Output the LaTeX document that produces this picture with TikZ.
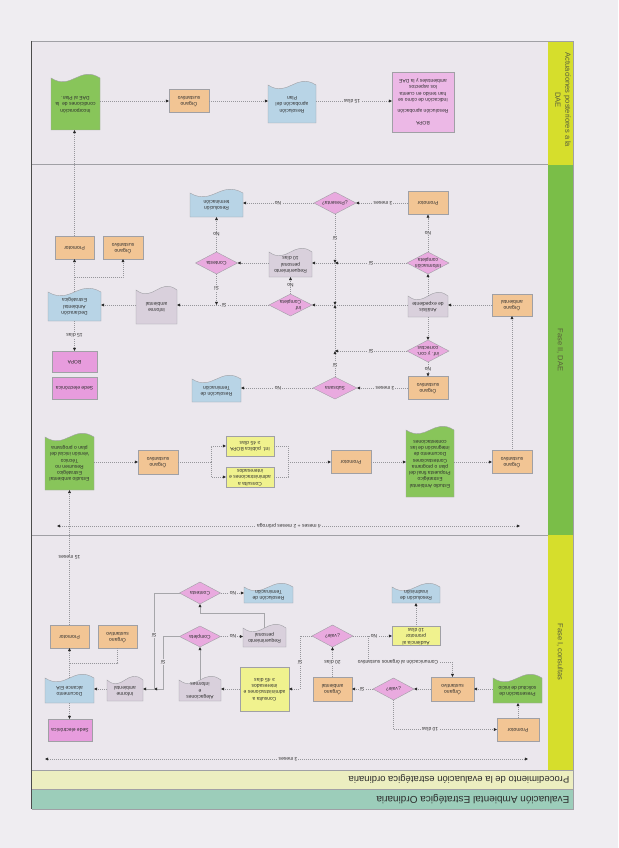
\documentclass[tikz,border=0pt]{standalone}
\usepackage{fontspec}
\setmainfont{Liberation Sans}
\usetikzlibrary{shapes.geometric,arrows.meta,calc}
\definecolor{pagebg}{RGB}{239,237,241}
\definecolor{bg}{RGB}{235,231,237}
\definecolor{orng}{RGB}{242,197,148}
\definecolor{grn}{RGB}{136,197,90}
\definecolor{blu}{RGB}{184,212,230}
\definecolor{pnk}{RGB}{231,156,221}
\definecolor{pnkl}{RGB}{236,184,230}
\definecolor{dpnk}{RGB}{233,170,223}
\definecolor{gry}{RGB}{217,208,220}
\definecolor{ylw}{RGB}{240,242,142}
\definecolor{bandy}{RGB}{214,222,44}
\definecolor{bandg}{RGB}{122,190,72}
\definecolor{lty}{RGB}{236,238,192}
\definecolor{tl}{RGB}{156,205,186}
\definecolor{edge}{RGB}{160,160,165}
\definecolor{lc}{RGB}{150,150,155}
\definecolor{tipc}{RGB}{40,40,40}
\definecolor{txt}{RGB}{45,45,45}
\definecolor{bandtxt}{RGB}{90,95,60}

\newcommand{\T}[2][c]{\makebox[0pt]{\smash{\raisebox{-0.25em}{\rotatebox[origin=c]{180}{\begin{tabular}{@{}#1@{}}#2\end{tabular}}}}}}

\tikzset{
 nbox/.style={draw=edge, line width=0.4pt, rectangle, inner sep=0pt, outer sep=0pt, text=txt, font=\fontsize{5}{6.3}\selectfont},
 dbox/.style={draw=edge, line width=0.4pt, diamond, fill=dpnk, inner sep=0pt, outer sep=0pt, text=txt, font=\fontsize{5}{6.3}\selectfont, minimum width=42pt, minimum height=22pt},
 dochold/.style={rectangle, inner sep=0pt, outer sep=0pt, text=txt, font=\fontsize{5}{6.3}\selectfont},
 conn/.style={draw=lc, line width=0.5pt, dash pattern=on 0.9pt off 1.1pt},
 sconn/.style={draw=lc!85!white, line width=0.7pt},
 arr/.style={-{Triangle[length=3.2pt,width=2.8pt,color=tipc]}},
 twoway/.style={{Triangle[length=3.2pt,width=2.8pt,color=tipc]}-{Triangle[length=3.2pt,width=2.8pt,color=tipc]}},
 lbl/.style={rotate=180, fill=bg, inner sep=0.7pt, text=txt, font=\fontsize{5}{6}\selectfont},
 bandlbl/.style={rotate=-90, text=bandtxt, font=\fontsize{7.5}{10}\selectfont, align=center, inner sep=0pt},
 sepline/.style={draw=edge, line width=0.5pt},
 frameline/.style={draw=gray!60!black, line width=0.9pt},
}

\newcommand{\mkbox}[7]{\node[nbox, fill=#6, minimum width={(#4-#2)*1pt}, minimum height={(#5-#3)*1pt}] (#1) at ({(#2+#4)/2},{(#3+#5)/2}) {\T{#7}};}
\newcommand{\mkdoc}[7]{%
 \path[draw=edge, line width=0.4pt, fill=#6] (#2,#5) -- (#4,#5) -- (#4,#3) .. controls ({#4-0.42*(#4-#2)},{#3-13}) and ({#2+0.42*(#4-#2)},{#3+13}) .. (#2,#3) -- cycle;
 \node[dochold, minimum width={(#4-#2)*1pt}, minimum height={(#5-#3)*1pt}] (#1) at ({(#2+#4)/2},{(#3+#5)/2}) {\T{#7}};}

\begin{document}
\begin{tikzpicture}[x=1pt,y=-1pt]
\useasboundingbox (0,0) rectangle (618,848);
\fill[pagebg] (0,0) rectangle (618,848);
\fill[bg] (31.5,41) rectangle (573,809);
% bands
\fill[bandy] (548,41) rectangle (573,164.5);
\fill[bandg] (548,164.5) rectangle (573,535);
\fill[bandy] (548,535) rectangle (573,770);
\fill[lty] (31.5,770) rectangle (573,789);
\fill[tl] (31.5,789) rectangle (573,809);
\draw[sepline] (31.5,164.5) -- (548,164.5);
\draw[sepline] (31.5,535) -- (548,535);
\draw[sepline] (31.5,770) -- (573,770);
\draw[sepline] (31.5,789) -- (573,789);
\draw[sepline] (31.5,41) -- (573,41) -- (573,809) -- (31.5,809);
\draw[frameline] (31.5,41) -- (31.5,809);

\node[bandlbl] (bA) at (563,100) {Actuaciones posteriores a la\\DAE};
\node[bandlbl] (bF2) at (560,350) {Fase II, DAE};
\node[bandlbl] (bF1) at (560,652) {Fase I, consultas};
\node[rotate=180, anchor=west, text=txt, font=\fontsize{10}{12}\selectfont, inner sep=0pt] (ttl) at (569.5,799) {Evaluación Ambiental Estratégica Ordinaria};
\node[rotate=180, anchor=west, text=txt, font=\fontsize{9.5}{11}\selectfont, inner sep=0pt] (sub) at (569.5,779.5) {Procedimiento de la evaluación estratégica ordinaria};

% ---------- Actuaciones posteriores ----------
\mkdoc{Ainc}{51}{78}{100}{130}{grn}{Incorporación\\condiciones de \ la\\DAE al Plan.}
\mkbox{Aorg}{169}{89.5}{209}{112.5}{orng}{Órgano\\sustantivo}
\mkdoc{Ares}{268}{85}{316}{123}{blu}{Resolución\\aprobación del\\Plan}
\mkbox{Abopa}{392}{72}{454}{132}{pnkl}{BOPA\\[6pt]Resolución aprobación\\[5pt]Indicación de cómo se\\han tenido en cuenta\\los aspectos\\ambientales y la DAE}

% ---------- Fase II ----------
\mkbox{Fpt}{55}{236}{94}{259}{orng}{Promotor}
\mkbox{Fot}{103}{236}{143}{259}{orng}{Órgano\\sustantivo}
\mkdoc{Fdec}{48}{292}{101}{321}{blu}{Declaración\\Ambiental\\Estratégica}
\mkdoc{Finf}{136}{290}{177}{324}{gry}{Informe\\ambiental}
\mkbox{Fbopa}{52}{351}{97}{372}{pnk}{BOPA}
\mkbox{Fsede}{52}{377}{97}{399}{pnk}{Sede electrónica}
\mkdoc{FresT}{190}{193}{243}{217}{blu}{Resolución\\terminación}
\node[dbox] (Fcont) at (216.5,263) {\T{Contesta}};
\node[dbox, minimum width=43pt] (Finfc) at (290.5,305) {\T[l]{Inf\\Completa}};
\mkdoc{Freq}{269}{252}{312}{277}{gry}{Requerimiento\\personal\\10 días}
\node[dbox] (Fpres) at (335,203) {\T{¿Presenta?}};
\mkbox{Fp2}{408}{191.5}{448}{214.5}{orng}{Promotor}
\node[dbox] (Ficomp) at (428,263) {\T{Información\\completa}};
\mkdoc{Fanal}{408}{296}{448}{317}{gry}{Análisis\\de expediente}
\mkbox{Foamb}{492}{294}{532}{316}{orng}{Órgano\\ambiental}
\node[dbox] (Fcorr) at (428,351) {\T{inf. y con.\\correctas}};
\mkbox{Fos}{408}{376.5}{448}{399.5}{orng}{Órgano\\sustantivo}
\node[dbox, minimum width=44pt] (Fsub) at (335,388) {\T{Subsana}};
\mkdoc{FresT2}{192}{379}{241}{402}{blu}{Resolución de\\Terminación}
\mkdoc{Fefin}{406}{430}{454}{497}{grn}{Estudio Ambiental\\Estratégico\\Propuesta final del\\plan o programa\\Contestaciones\\Documento de\\integración de las\\contestaciones}
\mkbox{Fos2}{492}{450.5}{532}{473.5}{orng}{Órgano\\sustantivo}
\mkbox{Fp3}{331}{450.5}{371}{473.5}{orng}{Promotor}
\mkbox{Fipub}{226}{436}{274}{456}{ylw}{Inf. pública BOPA\\≥ 45 días}
\mkbox{Fcons}{226}{467}{274}{487}{ylw}{Consulta a\\administraciones e\\interesados}
\mkbox{Fos3}{138}{450}{178}{474}{orng}{Órgano\\sustantivo}
\mkdoc{Feini}{45}{437}{94}{490}{grn}{Estudio ambiental\\Estratégico\\Resumen no\\Técnico\\Versión inicial del\\plan o programa}

% ---------- Fase I ----------
\mkbox{Ip}{497}{718}{539}{741}{orng}{Promotor}
\mkdoc{Ipres}{493}{678}{542}{703}{grn}{Presentación de\\solicitud de inicio}
\mkbox{Ios}{431}{677}{474}{701}{orng}{Órgano\\sustantivo}
\node[dbox, minimum width=41pt] (Iv1) at (393.5,689) {\T{¿vale?}};
\mkbox{Ioa}{313}{677}{352}{701}{orng}{Órgano\\ambiental}
\node[dbox, minimum width=41pt] (Iv2) at (332.5,636) {\T{¿vale?}};
\mkbox{Iaud}{392}{626.5}{440}{645.5}{ylw}{Audiencia al\\promotor\\10 días}
\mkdoc{Iresin}{392}{587}{440}{603}{blu}{Resolución de\\inadmisión}
\mkbox{Icons}{240}{667}{289}{711}{ylw}{Consulta a\\administraciones e\\interesados\\≥ 45 días}
\mkdoc{Ialeg}{179}{680}{221}{701}{gry}{Alegaciones\\e\\informes}
\node[dbox, minimum width=41pt, minimum height=21pt] (Icompl) at (200,636.5) {\T{Completa}};
\node[dbox, minimum width=41pt] (Icont) at (200,593) {\T{Contesta}};
\mkdoc{Ireq}{243}{628}{286}{647}{gry}{Requerimiento\\personal}
\mkdoc{IresT}{244}{587}{293}{603}{blu}{Resolución de\\Terminación}
\mkdoc{Iinf}{107}{680}{143}{701}{gry}{Informe\\ambiental}
\mkdoc{Idoc}{45}{678}{94}{703}{blu}{Documento\\alcance EIA}
\mkbox{Isede}{48}{719}{92}{741}{pnk}{Sede electrónica}
\mkbox{Ip2}{50}{625}{89}{648}{orng}{Promotor}
\mkbox{Io2}{98}{625}{137}{648}{orng}{Órgano\\sustantivo}

% coordinates
\coordinate (K) at (74.5,277);
\coordinate (b1) at (211,462);
\coordinate (b2) at (288,462);
\coordinate (J1) at (335,263);
\coordinate (J2) at (335,305);
\coordinate (J3) at (335,351);
\coordinate (Jc) at (216.5,305);
\coordinate (c1) at (368,636);
\coordinate (c2) at (452.5,662);
\coordinate (s1) at (300,689);
\coordinate (r1) at (200,613);
\coordinate (q1) at (163,689);
\coordinate (q2) at (154,689);
\coordinate (K1) at (69.5,663);
\coordinate (t3a) at (45,759);
\coordinate (t3b) at (528,759);
\coordinate (t4a) at (57,526);
\coordinate (t4b) at (520,526);

% ---------- connectors: Actuaciones ----------
\draw[conn,arr] (Ainc.east |- Aorg) -- (Aorg);
\draw[conn,arr] (Aorg) -- (Aorg -| Ares.west);
\draw[conn,arr] (Ares.east |- Aorg) -- (Aorg -| Abopa.west);

% ---------- connectors: Fase II ----------
\draw[conn,arr] (Feini.east |- Fos3) -- (Fos3);
\draw[conn] (Fos3) -- (b1);
\draw[conn,arr] (b1) |- (Fipub);
\draw[conn,arr] (b1) |- (Fcons);
\draw[conn] (Fipub) -| (b2);
\draw[conn] (Fcons) -| (b2);
\draw[conn,arr] (b2) -- (Fp3);
\draw[conn,arr] (Fp3) -- (Fp3 -| Fefin.west);
\draw[conn,arr] (Fefin.east |- Fos2) -- (Fos2);
\draw[conn,arr] (Fos2) -- (Foamb);
\draw[conn,arr] (Foamb) -- (Foamb -| Fanal.east);
\draw[conn,arr] (Fanal) -- (Ficomp);
\draw[conn,arr] (Fanal) -- (Fcorr);
\draw[conn,arr] (Fcorr) -- (Fos);
\draw[conn,arr] (Ficomp) -- (Fp2);
\draw[conn,arr] (Fp2) -- (Fpres);
\draw[conn,arr] (Fos) -- (Fsub);
\draw[conn,arr] (Fsub) -- (Fsub -| FresT2.east);
\draw[conn,arr] (Fpres) -- (Fpres -| FresT.east);
\draw[conn,arr] (Ficomp) -- (J1);
\draw[conn,arr] (J1) -- (J1 -| Freq.east);
\draw[conn,arr] (Fpres) -- (J1);
\draw[conn,arr] (J1) -- (J2);
\draw[conn,arr] (Fsub) -- (J3);
\draw[conn,arr] (J3) -- (J2);
\draw[conn,arr] (Fcorr) -- (J3);
\draw[conn] (Fanal.west |- J2) -- (J2);
\draw[conn,arr] (J2) -- (Finfc);
\draw[conn,arr] (Finfc) -- (Finfc |- Freq.south);
\draw[conn,arr] (Freq.west |- Fcont) -- (Fcont);
\draw[conn,arr] (Fcont) -- (Fcont |- FresT.south);
\draw[conn,arr] (Fcont) -- (Jc);
\draw[conn,arr] (Finfc) -- (Finfc -| Finf.east);
\draw[conn,arr] (Finf.west |- Finfc) -- (Finfc -| Fdec.east);
\draw[conn,arr] (Fdec) -- (Fbopa);
\draw[conn,arr] (Fdec) -- (Fpt);
\draw[conn,arr] (K) -| (Fot);
\draw[conn,arr] (Fpt) -- (Fpt |- Ainc.south);
\draw[conn,twoway] (t4a) -- (t4b);

% ---------- connectors: Fase I ----------
\draw[conn,arr] (Ip) -- (Ip |- Ipres.south);
\draw[conn,arr] (Ipres.west |- Ios) -- (Ios);
\draw[conn,arr] (Ios) -- (Iv1);
\draw[conn,arr] (Iv1) -- (Ioa);
\draw[conn,arr] (Iv1) |- (Ip);
\draw[conn,arr] (Ioa) -- (Iv2);
\draw[conn,arr] (Iv2) -- (Iaud);
\draw[conn,arr] (Iaud) -- (Iaud |- Iresin.south);
\draw[conn,arr] (c1) |- (c2) -- (Ios);
\draw[conn,arr] (Iv2) -| (s1) -- (Icons);
\draw[conn,arr] (Icons) -- (Icons -| Ialeg.east);
\draw[sconn,arr] (Ialeg) -- (Icompl);
\draw[conn,arr] (Icompl) -- (Icompl -| Ireq.west);
\draw[sconn] (Ireq) |- (r1);
\draw[sconn,arr] (r1) -- (Icont);
\draw[conn,arr] (Icont) -- (Icont -| IresT.west);
\draw[sconn,arr] (Icompl) -| (q1) -- (q2);
\draw[sconn,arr] (Icont) -| (q2) -- (q2 -| Iinf.east);
\draw[conn,arr] (Iinf.west |- q1) -- (q1 -| Idoc.east);
\draw[conn,arr] (Idoc) -- (Ip2);
\draw[conn] (K1) -| (Io2);
\draw[conn,arr] (Idoc) -- (Idoc |- Isede.north);
\draw[conn,arr] (Ip2) -- (Ip2 |- Feini.south);
\draw[conn,twoway] (t3a) -- (t3b);

% ---------- labels ----------
\node[lbl] (la1) at (352,101) {15 días};
\node[lbl] (lb1) at (278,203) {No};
\node[lbl] (lb2) at (383,203) {3 meses};
\node[lbl] (lb3) at (428,233) {No};
\node[lbl] (lb4) at (335,238) {Sí};
\node[lbl] (lb5) at (371,263) {Sí};
\node[lbl] (lb6) at (216.5,234) {No};
\node[lbl] (lb7) at (216.5,288) {Sí};
\node[lbl] (lb8) at (290.5,285) {No};
\node[lbl] (lb9) at (224,305) {Sí};
\node[lbl] (lb10) at (74.5,335) {15 días};
\node[lbl] (lb11) at (371,351) {Sí};
\node[lbl] (lb12) at (335,365) {Sí};
\node[lbl] (lb13) at (428,369) {No};
\node[lbl] (lb14) at (385,388) {3 meses};
\node[lbl] (lb15) at (278,388) {No};
\node[lbl] (lb16) at (289,526) {4 meses + 2 meses prórroga};
\node[lbl] (lc1) at (69.5,557) {15 meses};
\node[lbl] (lc2) at (233,593) {No};
\node[lbl] (lc3) at (233,636.5) {No};
\node[lbl] (lc4) at (154,635) {Sí};
\node[lbl] (lc5) at (163,662) {Sí};
\node[lbl] (lc6) at (300,662) {Sí};
\node[lbl] (lc7) at (374,636) {No};
\node[lbl] (lc8) at (332.5,662) {20 días};
\node[lbl] (lc9) at (398,662) {Comunicación al órganos sustantivo};
\node[lbl] (lc10) at (362,689) {Sí};
\node[lbl] (lc11) at (430,729.5) {10 días};
\node[lbl] (lc12) at (288,759) {3 meses};
\end{tikzpicture}
\end{document}
